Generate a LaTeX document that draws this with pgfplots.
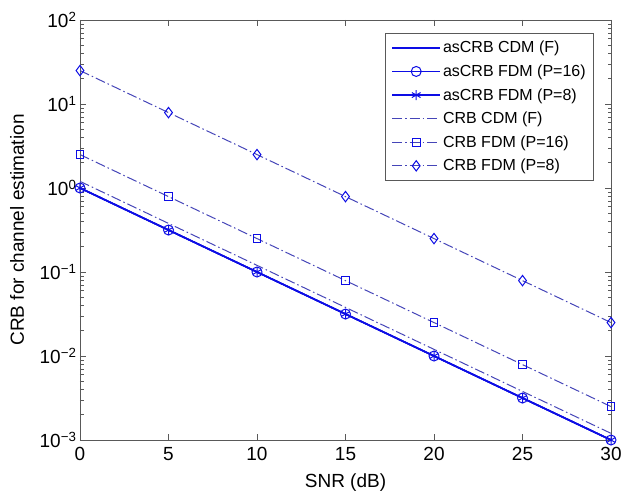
\documentclass[border=0pt]{standalone}
\usepackage{fontspec}
\setmainfont{Liberation Sans}
\usepackage{pgfplots}
\pgfplotsset{compat=1.18}
\definecolor{mblue}{rgb}{0.05,0.05,0.9}
\definecolor{dblue}{rgb}{0.27,0.27,0.72}
\definecolor{axgray}{rgb}{0.35,0.35,0.35}
\pgfplotsset{
  solidstyle/.style={draw=mblue, line width=1.6pt},
  dashstyle/.style={draw=dblue, line width=1.0pt, dash pattern=on 10pt off 3pt on 1.5pt off 3pt},
}
\begin{document}
\begin{tikzpicture}
\begin{axis}[
  scale only axis, width=531pt, height=420pt,
  xmin=0, xmax=30, ymode=log, ymin=1e-3, ymax=1e2,
  xtick={0,5,10,15,20,25,30},
  ytick={1e-3,1e-2,1e-1,1,10,100},
  yticklabels={10\textsuperscript{−3},10\textsuperscript{−2},10\textsuperscript{−1},10\textsuperscript{0},10\textsuperscript{1},10\textsuperscript{2}},
  /pgf/number format/assume math mode=true,
  tick align=inside,
  major tick length=6pt, minor tick length=3.5pt,
  every tick/.style={draw=axgray, line width=0.6pt},
  axis line style={draw=axgray, line width=0.8pt},
  ticklabel style={font=\fontsize{19}{19}\selectfont},
  xticklabel style={yshift=-4pt},
  label style={font=\fontsize{19}{19}\selectfont},
  xlabel={SNR (dB)}, ylabel={CRB for channel estimation},
  xlabel style={at={(axis description cs:0.5,0)}, anchor=center, yshift=-43pt},
  ylabel style={at={(axis description cs:0,0.5)}, anchor=center, yshift=63pt},
  legend cell align=left,
  legend style={at={(0.968,0.969)}, anchor=north east, font=\fontsize{16}{16}\selectfont,
    draw=axgray, line width=0.6pt, row sep=6.5pt, inner xsep=6pt, inner ysep=6pt},
  legend image code/.code={\draw[mark repeat=2,mark phase=2,#1] plot coordinates {(0pt,0pt)(24pt,0pt)(48pt,0pt)};},
]
\addplot[solidstyle] coordinates {(0,1.0)(5,0.316)(10,0.1)(15,0.0316)(20,0.01)(25,0.00316)(30,0.001)};
\addlegendentry{asCRB CDM (F)}
\addplot[solidstyle, mark=o, mark size=5pt, mark options={solid, draw=mblue, fill=none, line width=1pt}] coordinates {(0,1.0)(5,0.316)(10,0.1)(15,0.0316)(20,0.01)(25,0.00316)(30,0.001)};
\addlegendentry{asCRB FDM (P=16)}
\addplot[solidstyle, mark=asterisk, mark size=5pt, mark options={solid, draw=mblue, fill=none, line width=1pt}] coordinates {(0,1.0)(5,0.316)(10,0.1)(15,0.0316)(20,0.01)(25,0.00316)(30,0.001)};
\addlegendentry{asCRB FDM (P=8)}
\addplot[dashstyle] coordinates {(0,1.2)(5,0.379)(10,0.12)(15,0.0379)(20,0.012)(25,0.00379)(30,0.0012)};
\addlegendentry{CRB CDM (F)}
\addplot[dashstyle, mark=square, mark size=3.8pt, mark options={solid, draw=mblue, fill=none}] coordinates {(0,2.5)(5,0.79)(10,0.25)(15,0.079)(20,0.025)(25,0.0079)(30,0.0025)};
\addlegendentry{CRB FDM (P=16)}
\addplot[dashstyle, mark=diamond, mark size=5.2pt, mark options={solid, draw=mblue, fill=none}] coordinates {(0,25)(5,7.9)(10,2.5)(15,0.79)(20,0.25)(25,0.079)(30,0.025)};
\addlegendentry{CRB FDM (P=8)}
\end{axis}
\pgfresetboundingbox
\path[use as bounding box] ([xshift=-80pt,yshift=-55pt]current axis.south west) rectangle ([xshift=11pt,yshift=20pt]current axis.north east);
\end{tikzpicture}
\end{document}
